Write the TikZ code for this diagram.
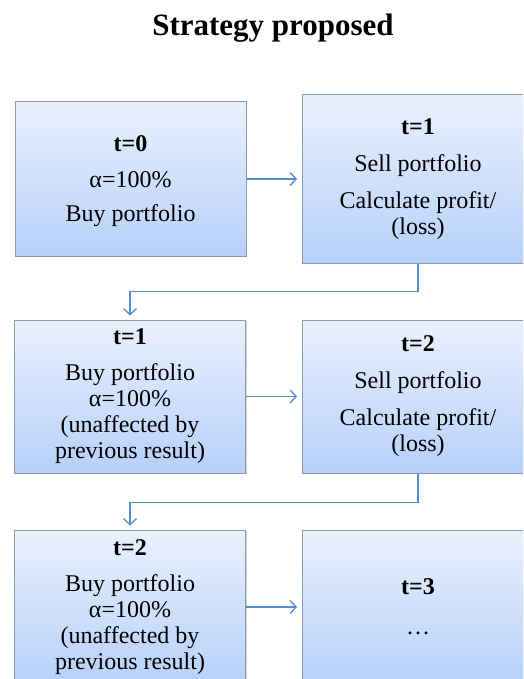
\documentclass[tikz,border=0pt]{standalone}
\usepackage{fontspec}
\setmainfont{Liberation Serif}
\usetikzlibrary{arrows.meta,shadows}
\definecolor{boxtop}{RGB}{233,241,253}
\definecolor{boxbot}{RGB}{182,208,250}
\definecolor{boxline}{RGB}{140,152,172}
\definecolor{flow}{RGB}{86,142,204}

\begin{document}
\begin{tikzpicture}[x=1pt,y=-1pt,
  stage/.style={rectangle, draw=boxline, line width=1pt, top color=boxtop, bottom color=boxbot,
    minimum width=231pt, align=center, inner sep=0pt,
    font=\fontsize{24}{26}\selectfont,
    drop shadow={opacity=0.35, shadow xshift=1.2pt, shadow yshift=-1.2pt}},
  flowline/.style={draw=flow, line width=1.3pt, -{Straight Barb[length=6pt,width=13pt]}}]
		\clip (0,0) rectangle (523,679);
		\fill[white] (0,0) rectangle (523,679);

		% Heading
		\node (title) at (273,28) {\fontsize{31}{36}\selectfont\bfseries Strategy proposed};

		% First period
		\node (buy0) at (130.5,179) [stage, minimum height=154pt, text depth=-3pt] {\textbf{t=0}\\[10pt] α=100\%\\[8pt] Buy portfolio};
		\node (sell1) at (418,179) [stage, minimum height=168pt] {\textbf{t=1}\\[11pt] Sell portfolio\\[11pt] Calculate profit/\\ (loss)};

		% Second period
		\node (buy1) at (130,396.5) [stage, minimum height=153pt] {\textbf{t=1}\\[10pt] Buy portfolio\\ α=100\%\\ (unaffected by\\ previous result)};
		\node (sell2) at (418,396.5) [stage, minimum height=153pt] {\textbf{t=2}\\[11pt] Sell portfolio\\[11pt] Calculate profit/\\ (loss)};

		% Third period
		\node (buy2) at (130,607) [stage, minimum height=154pt] {\textbf{t=2}\\[10pt] Buy portfolio\\ α=100\%\\ (unaffected by\\ previous result)};
		\node (sell3) at (418,607) [stage, minimum height=154pt] {\textbf{t=3}\\[14pt] …};

		% Connections between the boxes
		\draw [flowline, shorten >=5pt] (buy0) -- (sell1.west |- buy0);
		\draw [flowline, shorten >=4pt] (sell1.south) -- ++(0,28) -| (buy1.north);
		\draw [flowline, shorten >=5pt] (buy1) -- (sell2);
		\draw [flowline, shorten >=4pt] (sell2.south) -- ++(0,29) -| (buy2.north);
		\draw [flowline, shorten >=5pt] (buy2) -- (sell3);
\end{tikzpicture}
\end{document}
